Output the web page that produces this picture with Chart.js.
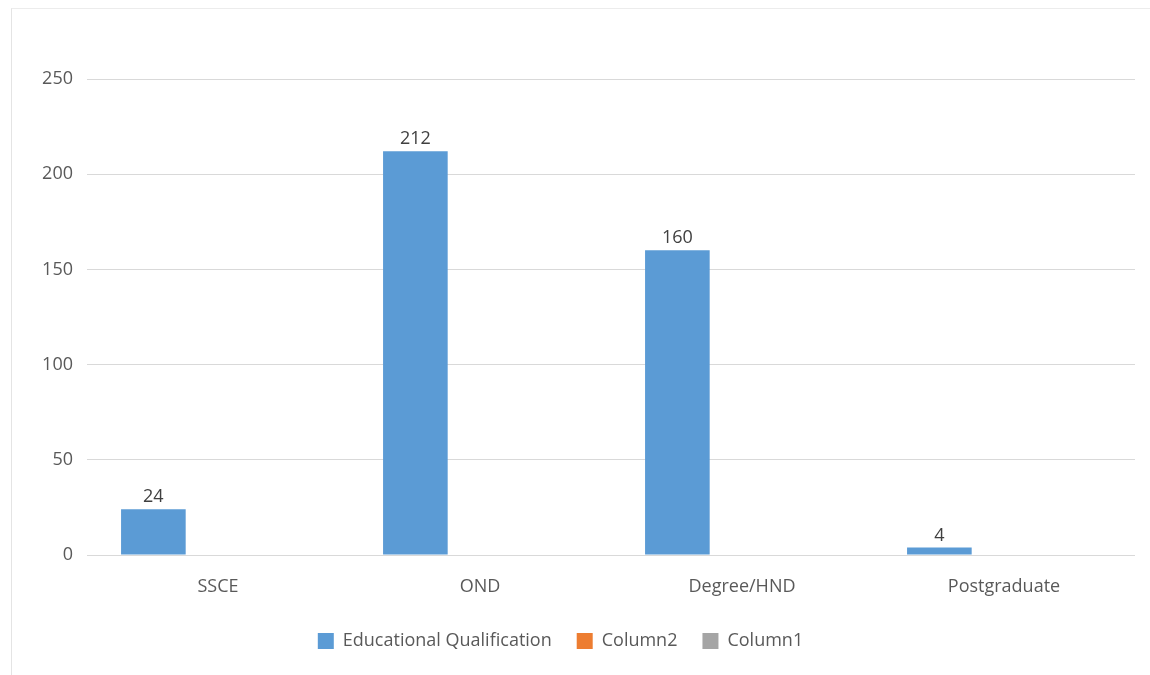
<!DOCTYPE html>
<html>
<head>
<meta charset="utf-8">
<script src="https://cdn.jsdelivr.net/npm/chart.js@4.4.0/dist/chart.umd.min.js"></script>
<style>
  html, body { margin: 0; padding: 0; background: #fff; }
  #frame { position: absolute; left: 11px; top: 8px; width: 1200px; height: 700px;
           border-left: 1px solid #e4e4e4; border-top: 1px solid #ececec; }
  #wrap { position: absolute; left: 0; top: 0; width: 1150px; height: 675px; }
</style>
</head>
<body>
<div id="frame"></div>
<div id="wrap"><canvas id="eduChart"></canvas></div>
<script>
// categories + series
var categories = ["SSCE", "OND", "Degree/HND", "Postgraduate"];
var eduQualification = [24, 212, 160, 4];
var column2 = [null, null, null, null];
var column1 = [null, null, null, null];
var yTicks = [0, 50, 100, 150, 200, 250];

var FONT = "'Open Sans', sans-serif";

// value labels above the blue bars
var barLabels = {
    id: 'barLabels',
    afterLayout: function (chart) {
        // legend sits a little left of the canvas centre in the original
        chart.legend.left -= 7;
        chart.legend.right -= 7;
    },
    afterDatasetsDraw: function (chart) {
        var ctx = chart.ctx;
        var meta = chart.getDatasetMeta(0);
        ctx.save();
        ctx.font = "18px " + FONT;
        ctx.fillStyle = "#404040";
        ctx.textAlign = "center";
        ctx.textBaseline = "bottom";
        meta.data.forEach(function (bar, i) {
            var v = chart.data.datasets[0].data[i];
            if (v === null) return;
            ctx.fillText(String(v), bar.x, bar.y - 3);
        });
        ctx.restore();
    }
};

var chart = new Chart(document.getElementById("eduChart"), {
    type: 'bar',
    data: {
        labels: categories,
        datasets: [
            { label: "Educational Qualification", data: eduQualification, backgroundColor: "#5B9BD5" },
            { label: "Column2", data: column2, backgroundColor: "#ED7D31" },
            { label: "Column1", data: column1, backgroundColor: "#A5A5A5" }
        ]
    },
    options: {
        responsive: true,
        maintainAspectRatio: false,
        animation: false,
        categoryPercentage: 0.74,
        barPercentage: 1.0,
        layout: { padding: { top: 79, right: 15, left: 0, bottom: 15 } },
        plugins: {
            legend: {
                position: 'bottom',
                labels: {
                    boxWidth: 16, boxHeight: 16, padding: 25,
                    color: "#595959",
                    font: { family: FONT, size: 18 }
                }
            },
            tooltip: { enabled: false }
        },
        scales: {
            x: {
                grid: { display: false, drawTicks: false },
                border: { display: false },
                ticks: { color: "#595959", padding: 21, font: { family: FONT, size: 18 } },
                afterFit: function (s) { s.height = 52; }
            },
            y: {
                min: 0, max: 250,
                afterBuildTicks: function (s) { s.ticks = yTicks.map(function (v) { return { value: v }; }); },
                grid: { color: "#d9d9d9", lineWidth: 1, drawTicks: false },
                border: { display: false },
                ticks: { color: "#595959", padding: 14, font: { family: FONT, size: 18 } },
                afterFit: function (s) { s.width = 87; }
            }
        }
    },
    plugins: [barLabels]
});
</script>
</body>
</html>
